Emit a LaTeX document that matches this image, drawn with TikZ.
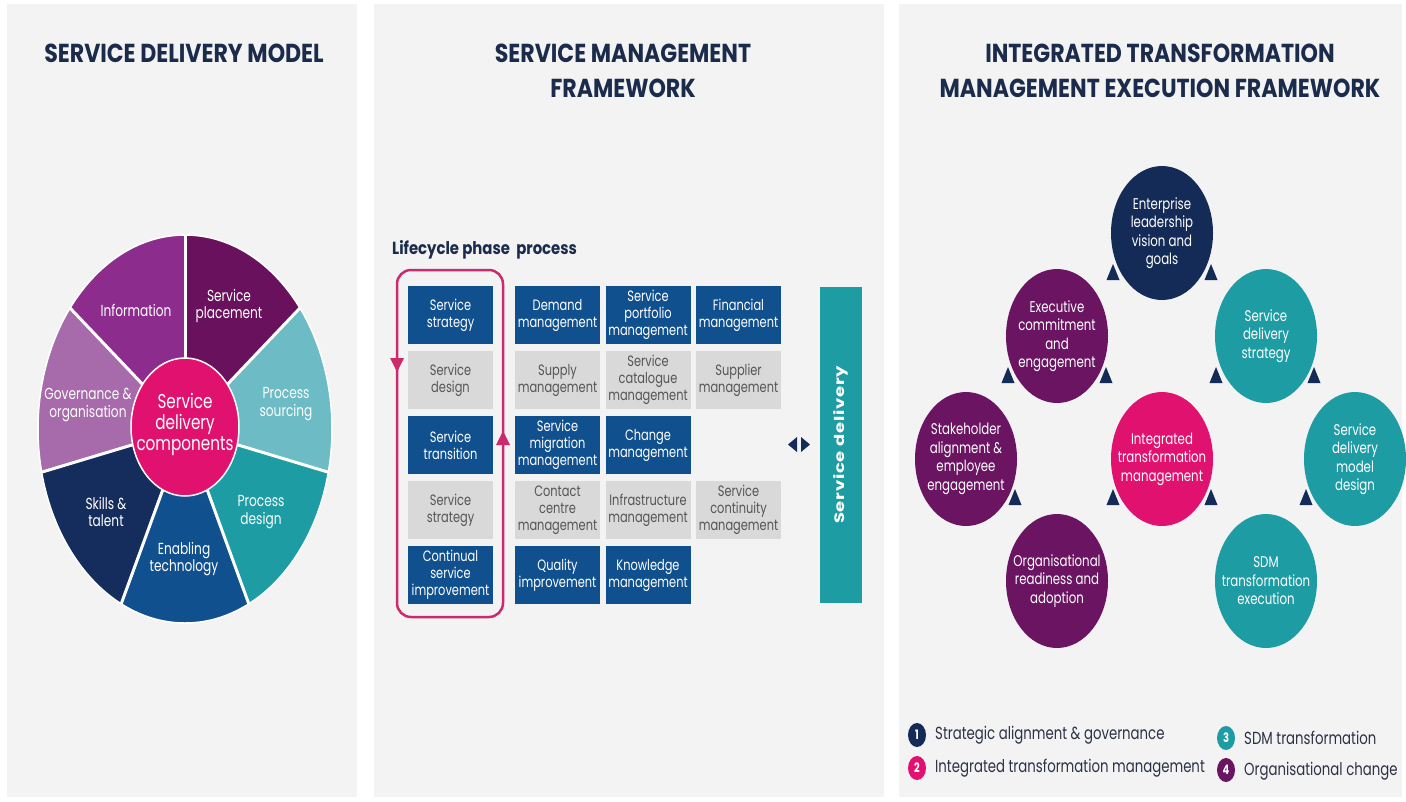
\documentclass[tikz,border=0pt]{standalone}
\usepackage{fontspec}
\setmainfont{Poppins}[FakeStretch=0.76]
\newfontfamily\sdmHead{Poppins}[FakeStretch=0.85]
\newfontfamily\sdwide{Poppins}[LetterSpace=4]
\usetikzlibrary{calc}

\definecolor{pnl}{HTML}{F3F3F3}
\definecolor{ttl}{HTML}{1B2B4B}
\definecolor{navy}{HTML}{152B57}
\definecolor{blu}{HTML}{10508E}
\definecolor{gry}{HTML}{D9D9D9}
\definecolor{gtx}{HTML}{555555}
\definecolor{teal}{HTML}{1E9CA3}
\definecolor{lteal}{HTML}{6CBBC5}
\definecolor{pink}{HTML}{E1126F}
\definecolor{plum}{HTML}{6A1462}
\definecolor{placec}{HTML}{6A115E}
\definecolor{purp}{HTML}{8C2D8D}
\definecolor{lpurp}{HTML}{A76AAB}
\definecolor{dnavy}{HTML}{142D5D}
\definecolor{loopc}{HTML}{CB2A6C}
\definecolor{legtx}{HTML}{2C3245}

\newcommand\sdmTitle{\sdmHead\fontsize{26}{35}\selectfont\bfseries}
\newcommand\sdmWheel{\fontsize{16}{17.5}\selectfont}
\newcommand\sdmBox{\fontsize{15}{17}\selectfont}
\newcommand\sdmCirc{\fontsize{15.5}{18.5}\selectfont}
\newcommand\sdmLeg{\fontsize{17.5}{19}\selectfont}

\tikzset{
  paneltitle/.style={text=ttl, align=center, font=\sdmTitle, inner sep=0},
  wheellabel/.style={text=white, align=center, font=\sdmWheel, inner sep=0},
  bluebox/.style={fill=blu, text=white, minimum width=85, minimum height=58,
    inner sep=0, align=center, font=\sdmBox},
  greybox/.style={fill=gry, text=gtx, minimum width=85, minimum height=58,
    inner sep=0, align=center, font=\sdmBox},
  circtext/.style={text=white, align=center, font=\sdmCirc, inner sep=0},
  legnum/.style={text=white, font=\fontsize{13}{13}\selectfont\bfseries, inner sep=0},
  legtext/.style={text=legtx, font=\sdmLeg, anchor=west, inner sep=0},
  tri/.style={fill=navy},
}

\begin{document}
\begin{tikzpicture}[x=1pt,y=-1pt]
% page and the three panels
\fill[white] (0,0) rectangle (1406,801);
\useasboundingbox (0,0) rectangle (1406,801);
\fill[pnl] (7,4) rectangle (357,797);
\fill[pnl] (374,4) rectangle (884,797);
\fill[pnl] (899,4) rectangle (1402,797);

% titles
\node[paneltitle] (t1) at (184,53) {SERVICE DELIVERY MODEL};
\node[paneltitle] (t2) at (623,70.5) {SERVICE MANAGEMENT\\FRAMEWORK};
\node[paneltitle] (t3) at (1160,70.5) {INTEGRATED TRANSFORMATION\\MANAGEMENT EXECUTION FRAMEWORK};

% ---------- service delivery wheel ----------
\foreach \i/\c in {0/placec,1/lteal,2/teal,3/blu,4/dnavy,5/lpurp,6/purp}{
  \pgfmathsetmacro\ta{90-\i*360/7}
  \pgfmathsetmacro\tb{90-(\i+1)*360/7}
  \fill[\c] (185,429) -- plot[domain=\ta:\tb, samples=40, variable=\t]
    ({185+147*cos(\t)},{429-194*sin(\t)}) -- cycle;
}
\foreach \k in {0,...,6}{
  \draw[white, line width=3] (185,429) --
    ({185+147*cos(90-\k*360/7)},{429-194*sin(90-\k*360/7)});
}
\draw[white, line width=1.5] (185,429) ellipse [x radius=147, y radius=194];
\fill[pink] (185,427) ellipse [x radius=54, y radius=69];
\draw[white, line width=1.5] (185,427) ellipse [x radius=54, y radius=69];

\node[wheellabel] (w1) at (229,306) {Service\\placement};
\node[wheellabel] (w2) at (286,404) {Process\\sourcing};
\node[wheellabel] (w3) at (261,512) {Process\\design};
\node[wheellabel] (w4) at (184,559) {Enabling\\technology};
\node[wheellabel] (w5) at (106,512) {Skills \&\\talent};
\node[wheellabel] (w6) at (88,405) {Governance \&\\organisation};
\node[wheellabel] (w7) at (136,310) {Information};
\node[wheellabel, font=\fontsize{20}{21}\selectfont] (wc) at (185,424)
  {Service\\delivery\\components};

% ---------- service management framework ----------
\node[text=ttl, font=\sdmHead\fontsize{17.5}{19}\selectfont\bfseries, anchor=west, inner sep=0]
  (lph) at (392,250) {Lifecycle phase\ \ process};

% lifecycle loop
\draw[loopc, line width=2.5, rounded corners=14] (397,270) rectangle (503,617);
\fill[loopc] (390,358) -- (404,358) -- (397,372) -- cycle;
\fill[loopc] (496,445) -- (510,445) -- (503,431) -- cycle;

% lifecycle column
\node[bluebox] (l1) at (450.5,315) {Service\\strategy};
\node[greybox] (l2) at (450.5,380) {Service\\design};
\node[bluebox] (l3) at (450.5,445) {Service\\transition};
\node[greybox] (l4) at (450.5,510) {Service\\strategy};
\node[bluebox] (l5) at (450.5,575) {Continual\\service\\improvement};

% process columns
\node[bluebox] (p11) at (557.5,315) {Demand\\management};
\node[bluebox] (p12) at (648,315) {Service\\portfolio\\management};
\node[bluebox] (p13) at (738.5,315) {Financial\\management};
\node[greybox] (p21) at (557.5,380) {Supply\\management};
\node[greybox] (p22) at (648,380) {Service\\catalogue\\management};
\node[greybox] (p23) at (738.5,380) {Supplier\\management};
\node[bluebox] (p31) at (557.5,445) {Service\\migration\\management};
\node[bluebox] (p32) at (648,445) {Change\\management};
\node[greybox] (p41) at (557.5,510) {Contact\\centre\\management};
\node[greybox] (p42) at (648,510) {Infrastructure\\management};
\node[greybox] (p43) at (738.5,510) {Service\\continuity\\management};
\node[bluebox] (p51) at (557.5,575) {Quality\\improvement};
\node[bluebox] (p52) at (648,575) {Knowledge\\management};

% exchange marker and service delivery bar
\fill[navy] (788,444.5) -- (797,437) -- (797,452) -- cycle;
\fill[navy] (810,444.5) -- (801,437) -- (801,452) -- cycle;
\node[fill=teal, minimum width=42, minimum height=316, inner sep=0] (sd) at (841,445) {};
\node[rotate=90, text=white, inner sep=0] (sdt) at (sd.center)
  {\scalebox{1}[0.76]{\sdwide\fontsize{18}{18}\selectfont\bfseries Service delivery}};

% ---------- integrated transformation framework ----------
\foreach \x/\y/\c in {1162/233/navy, 1057/336/plum, 1266/336/teal,
    966/459/plum, 1162/459/pink, 1355/459/teal,
    1057/581/plum, 1266/581/teal}{
  \fill[\c] (\x,\y) ellipse [x radius=51, y radius=67];
}
\node[circtext] (e1) at (1162,233) {Enterprise\\leadership\\vision and\\goals};
\node[circtext] (e2) at (1057,336) {Executive\\commitment\\and\\engagement};
\node[circtext] (e3) at (1266,336) {Service\\delivery\\strategy};
\node[circtext] (e4) at (966,459) {Stakeholder\\alignment \&\\employee\\engagement};
\node[circtext] (e5) at (1162,459) {Integrated\\transformation\\management};
\node[circtext] (e6) at (1355,459) {Service\\delivery\\model\\design};
\node[circtext] (e7) at (1057,581) {Organisational\\readiness and\\adoption};
\node[circtext] (e8) at (1266,581) {SDM\\transformation\\execution};

% small navy markers beside the circles
\foreach \x/\y in {1113/272, 1211/272, 1008/375, 1106/375, 1216/375, 1314/375,
    1015/497, 1113/497, 1211/497, 1306/497}{
  \fill[tri] (\x-6.5,\y+8) -- (\x+6.5,\y+8) -- (\x,\y-8) -- cycle;
}

% legend
\foreach \x/\y/\c/\n in {917/735/navy/1, 917/768/pink/2, 1226/738/teal/3, 1226/770/plum/4}{
  \fill[\c] (\x,\y) ellipse [x radius=9, y radius=12];
  \node[legnum] (n\n) at (\x,\y) {\n};
}
\node[legtext] (g1) at (935,735) {Strategic alignment \& governance};
\node[legtext] (g2) at (935,768) {Integrated transformation management};
\node[legtext] (g3) at (1244,738) {SDM transformation};
\node[legtext] (g4) at (1244,771) {Organisational change};
\end{tikzpicture}
\end{document}
